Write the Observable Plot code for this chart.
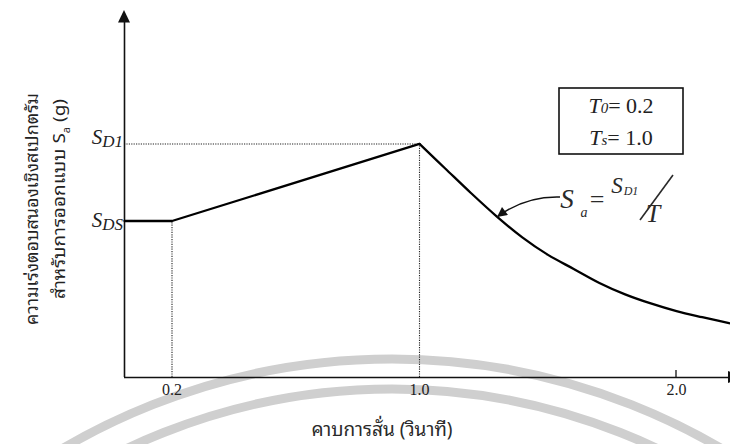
<!DOCTYPE html>
<html>
<head>
<meta charset="utf-8">
<script src="https://cdn.jsdelivr.net/npm/d3@7"></script>
<script src="https://cdn.jsdelivr.net/npm/@observablehq/plot@0.6"></script>
<style>
  html, body { margin: 0; padding: 0; background: #fff; overflow: hidden; }
  #chart { width: 730px; height: 444px; }
</style>
</head>
<body>
<div id="chart"></div>
<script>
// Design response spectrum (values relative to S_D1)
const T0 = 0.2;
const Ts = 1.0;
const SDS = 0.67;
const SD1 = 1.0;

// plateau and linear rise up to the corner period Ts
const riseT  = [0, 0.2, 1.0];
const riseSa = [0.67, 0.67, 1.0];

// descending branch Sa = S_D1 / T
const fallT  = [1.0, 1.1, 1.2, 1.3, 1.4, 1.5, 1.6, 1.7, 1.8, 1.9, 2.0, 2.1, 2.2, 2.25];
const fallSa = [1.0, 0.895, 0.79, 0.69, 0.60, 0.525, 0.465, 0.405, 0.356, 0.317, 0.284, 0.258, 0.234, 0.222];

// period axis labels
const xTicks = [0.2, 1.0, 2.0];
const xTickLabels = ["0.2", "1.0", "2.0"];

const yTitle1 = "ความเร่งตอบสนองเชิงสเปกตรัม";
const yTitle2 = "สำหรับการออกแบบ ";
const xTitle = "คาบการสั่น (วินาที)";

const thaiFont = "'Noto Sans Thai Looped', 'Noto Sans Thai', 'Noto Sans', sans-serif";
const serif = "'Liberation Serif', 'Times New Roman', serif";

const rise = riseT.map((t, i) => ({T: t, Sa: riseSa[i]}));
const fall = fallT.map((t, i) => ({T: t, Sa: fallSa[i]}));

// the period axis is schematic: each interval gets its own length
const xMap = d3.scaleLinear().domain([0, T0, Ts, 2.0]).range([0, 47.5, 295, 552]);

const chart = Plot.plot({
  width: 730,
  height: 444,
  marginLeft: 124,
  marginRight: 0,
  marginTop: 22,
  marginBottom: 67,
  style: {background: "transparent"},
  x: {transform: xMap, domain: [0, 606], axis: null},
  y: {domain: [0, 1.52], axis: null},
  marks: [
    // dotted guides to S_D1, T0 and Ts
    Plot.ruleY([{y: SD1, x1: 0, x2: Ts}], {y: "y", x1: "x1", x2: "x2", stroke: "#222", strokeWidth: 1.1, strokeDasharray: "1.2,1.2"}),
    Plot.ruleX([{x: T0, y1: 0, y2: SDS}, {x: Ts, y1: 0, y2: SD1}], {x: "x", y1: "y1", y2: "y2", stroke: "#222", strokeWidth: 1.1, strokeDasharray: "1.2,1.2"}),
    // axes
    Plot.ruleX([0], {stroke: "#111", strokeWidth: 1.6}),
    Plot.ruleY([0], {stroke: "#111", strokeWidth: 1.6}),
    // spectrum
    Plot.line(rise, {x: "T", y: "Sa", stroke: "#000", strokeWidth: 2.3, strokeLinecap: "round"}),
    Plot.line(fall, {x: "T", y: "Sa", stroke: "#000", strokeWidth: 2.3, curve: "monotone-x", strokeLinecap: "round"}),
    // tick labels
    Plot.text(xTicks, {x: d => d, frameAnchor: "bottom", dy: 17, text: (d, i) => xTickLabels[i], fontFamily: serif, fontSize: 16, fill: "#222"})
  ]
});

document.getElementById("chart").appendChild(chart);

const svg = d3.select(chart);
const xs = chart.scale("x"), ys = chart.scale("y");
// apply() works on transformed values; guard in case it already applies the transform
const px = v => {
  const direct = xs.apply(v);
  return Math.abs(direct - xs.apply(xMap(Ts))) < 1 && v === Ts ? direct : xs.apply(xMap(v));
};
const py = v => ys.apply(v);
const x0 = px(0), yBase = py(0);

// faint ring watermark behind everything
const wm = svg.insert("g", ":first-child").attr("fill", "none").attr("stroke", "#cfcfcf").attr("stroke-width", 9);
wm.append("circle").attr("cx", 392).attr("cy", 1009).attr("r", 650);
wm.append("circle").attr("cx", 392).attr("cy", 1009).attr("r", 620);

// arrowheads on the axes
svg.append("path").attr("d", `M${x0},10L${x0 - 6},22.5L${x0 + 6},22.5Z`).attr("fill", "#111");
svg.append("path").attr("d", `M728,${yBase - 6}L728,${yBase + 6}L742,${yBase}Z`).attr("fill", "#111");
// tick mark at 2.0
svg.append("line").attr("x1", px(2.0)).attr("x2", px(2.0)).attr("y1", yBase).attr("y2", yBase - 7).attr("stroke", "#111").attr("stroke-width", 1.3);

// axis titles
svg.append("text")
  .attr("transform", `translate(38,209) rotate(-90)`)
  .attr("text-anchor", "middle")
  .attr("font-family", thaiFont).attr("font-size", 17).attr("fill", "#222")
  .attr("textLength", 232).attr("lengthAdjust", "spacingAndGlyphs")
  .text(yTitle1);

const ty2 = svg.append("text")
  .attr("transform", `translate(65,199) rotate(-90)`)
  .attr("text-anchor", "middle")
  .attr("font-family", thaiFont).attr("font-size", 17).attr("fill", "#222")
  .attr("textLength", 200).attr("lengthAdjust", "spacingAndGlyphs");
ty2.append("tspan").text(yTitle2 + "S");
ty2.append("tspan").attr("font-size", 10).attr("dy", 5).text("a");
ty2.append("tspan").attr("dy", -5).text(" (g)");

svg.append("text")
  .attr("x", 382).attr("y", 436)
  .attr("text-anchor", "middle")
  .attr("font-family", thaiFont).attr("font-size", 19).attr("fill", "#2a2a2a")
  .text(xTitle);

// S_D1 / S_DS level labels
function levelLabel(y, sub) {
  const t = svg.append("text").attr("x", x0 - 1).attr("y", y).attr("text-anchor", "end")
    .attr("font-family", serif).attr("font-style", "italic").attr("fill", "#222");
  t.append("tspan").attr("font-size", 21).text("S");
  t.append("tspan").attr("font-size", 17).attr("dy", 3).text(sub);
}
levelLabel(py(SD1) + 0.5, "D1");
levelLabel(py(SDS) + 6.5, "DS");

// T0 / Ts box
svg.append("rect").attr("x", 559).attr("y", 88).attr("width", 124).attr("height", 66)
  .attr("fill", "none").attr("stroke", "#111").attr("stroke-width", 1.6);
function boxLine(y, sub, val) {
  const t = svg.append("text").attr("x", 621).attr("y", y).attr("text-anchor", "middle")
    .attr("font-family", serif).attr("fill", "#222");
  t.append("tspan").attr("font-size", 22).attr("font-style", "italic").text("T");
  t.append("tspan").attr("font-size", 15).attr("font-style", "italic").text(sub);
  t.append("tspan").attr("font-size", 22).text("= " + val.toFixed(1));
}
boxLine(113, "0", T0);
boxLine(145, "s", Ts);

// formula Sa = S_D1 / T
const f = svg.append("g").attr("font-family", serif).attr("fill", "#2a2a2a");
f.append("text").attr("x", 567).attr("y", 208).attr("font-size", 27).attr("font-style", "italic").text("S");
f.append("text").attr("x", 584).attr("y", 217).attr("font-size", 14).attr("font-style", "italic").text("a");
f.append("text").attr("x", 597).attr("y", 208).attr("font-size", 26).text("=");
f.append("text").attr("x", 617).attr("y", 193).attr("font-size", 23).attr("font-style", "italic").text("S");
f.append("text").attr("x", 631).attr("y", 195).attr("font-size", 12).attr("font-style", "italic").text("D1");
f.append("line").attr("x1", 640).attr("y1", 220).attr("x2", 673).attr("y2", 175).attr("stroke", "#2a2a2a").attr("stroke-width", 1.6);
f.append("text").attr("x", 653).attr("y", 222).attr("font-size", 26).attr("font-style", "italic").text("T");

// pointer from the formula to the curve
const defs = svg.append("defs");
defs.append("marker").attr("id", "head").attr("viewBox", "0 0 10 10").attr("refX", 10).attr("refY", 5)
  .attr("markerUnits", "userSpaceOnUse").attr("markerWidth", 13).attr("markerHeight", 10).attr("orient", "auto")
  .append("path").attr("d", "M0,0L10,5L0,10Z").attr("fill", "#111");
svg.append("path").attr("d", "M560,197Q525,196 497,217").attr("fill", "none").attr("stroke", "#111")
  .attr("stroke-width", 1.5).attr("marker-end", "url(#head)");
</script>
</body>
</html>
